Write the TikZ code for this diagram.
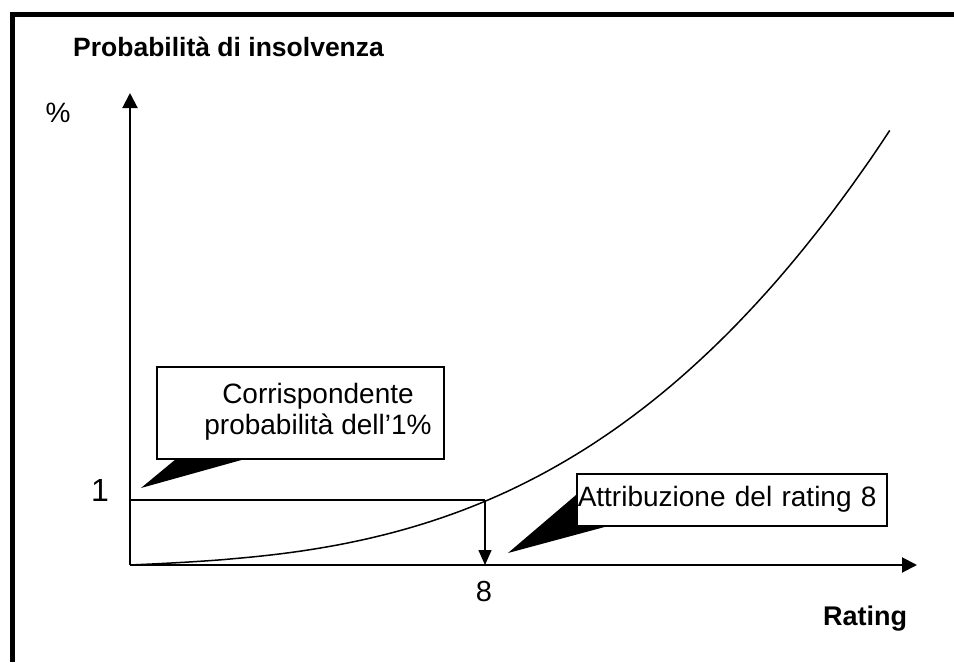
\documentclass[tikz,border=0pt]{standalone}
\usepackage{fontspec}
\setmainfont{Liberation Sans}
\usetikzlibrary{arrows.meta,positioning}
\tikzset{
  axis/.style={line width=2pt,-{Triangle[length=15pt,width=15pt]}},
  thinline/.style={line width=1.5pt},
  callout/.style={draw,line width=1.5pt,fill=white},
}
\begin{document}
\begin{tikzpicture}[x=1pt,y=-1pt]
	    \useasboundingbox (0,0) rectangle (954,662);
	    \draw[line width=5pt](12,662)--(12,14)--(954,14);
	    \coordinate (O) at (130,565);
	    \coordinate (ytop) at (130,93);
	    \coordinate (xend) at (917,565);
	    \coordinate (lev) at (130,500);
	    \coordinate (hit) at (485,500);
	    \node[anchor=base west,inner sep=0pt,font=\fontsize{26.5}{30}\selectfont\bfseries] (title) at (73,56) {Probabilità di insolvenza};
	    \node[font=\fontsize{28}{32}\selectfont] (pct) at (58,113) {\%};
	    \node[anchor=base west,inner sep=0pt,font=\fontsize{27}{31}\selectfont\bfseries] (rat) at (823,625) {Rating};
	    \draw[axis](O)--(ytop);
	    \draw[axis](O)--(xend);
	    \draw[thinline](O)--plot[domain=0.01:1,samples=80]({130+760*\x},{565-435*(0.08*\x+0.92*\x^2.8)});
	    \draw[thinline](lev)--(hit);
	    \draw[thinline,-{Triangle[length=15pt,width=13pt]}](hit)--(hit|-O);
	    \node[anchor=east,inner sep=0pt,font=\fontsize{32}{36}\selectfont] (one) at (109,490) {1};
	    \node[font=\fontsize{29}{33}\selectfont] (eight) at (484,592) {8};
	    % richiami
	    \fill(141,488)--(176,459)--(245,459)--cycle;
	    \node[callout,minimum width=287,minimum height=92] (corr) at (300.5,413) {};
	    \node[align=center,font=\fontsize{28}{31}\selectfont] (corrtxt) at (318,412) {Corrispondente\\probabilità dell’1\%};
	    \fill(508,553)--(576,495)--(612,525)--cycle;
	    \node[callout,anchor=north west,minimum height=52,text width=308,inner xsep=1pt,inner ysep=0pt,align=left,font=\fontsize{28}{32}\selectfont] (attr) at (576,473) {Attribuzione del rating 8};
\end{tikzpicture}
\end{document}
